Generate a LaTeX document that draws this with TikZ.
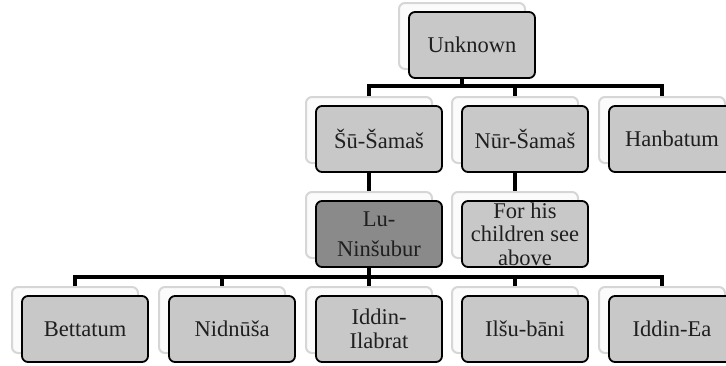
\documentclass[tikz,border=0pt]{standalone}
\usepackage{fontspec}
\setmainfont{Liberation Serif}
\usetikzlibrary{shadows,backgrounds}
\definecolor{boxgray}{RGB}{200,200,200}
\definecolor{boxdark}{RGB}{138,138,138}
\definecolor{shadowline}{RGB}{214,214,214}
\definecolor{shadowfill}{RGB}{251,251,251}
\begin{document}
\begin{tikzpicture}[x=1pt,y=-1pt,
  famnode/.style={rectangle, rounded corners=6pt, draw=black, line width=1.8pt,
    fill=boxgray, minimum width=126pt, minimum height=66pt, inner sep=0pt,
    align=center, text=black!88, font=\fontsize{22.5}{24.5}\selectfont,
    copy shadow={shadow xshift=-10pt, shadow yshift=9pt, fill=shadowfill,
      draw=shadowline, line width=2pt}},
  link/.style={line width=4pt, draw=black}]
\useasboundingbox (0,0) rectangle (726,365);
\clip (0,0) rectangle (726,365);
% level 1
\node[famnode] (u) at (472,45) {Unknown};
% level 2
\node[famnode] (s) at (379,139) {Šū-Šamaš};
\node[famnode] (n) at (525,139) {Nūr-Šamaš};
\node[famnode] (h) at (672,139) {Hanbatum};
% level 3
\node[famnode, fill=boxdark] (l) at (379,234) {Lu-\\[6pt]Ninšubur};
\node[famnode, label={[align=center, text=black!88, font=\fontsize{22.5}{23.5}\selectfont]center:For his\\children see\\above}] (f) at (525,234) {};
% level 4
\node[famnode] (b1) at (85,329) {Bettatum};
\node[famnode] (b2) at (232,329) {Nidnūša};
\node[famnode] (b3) at (379,329) {Iddin-\\Ilabrat};
\node[famnode] (b4) at (525,329) {Ilšu-bāni};
\node[famnode] (b5) at (672,329) {Iddin-Ea};
\coordinate (bus1) at (0,86);
\coordinate (bus2) at (0,277);
\begin{scope}[on background layer]
  \draw[link] ([xshift=-10pt]u.south) -- ([xshift=-10pt]u.south |- bus1);
  \draw[link] ([xshift=-10pt,yshift=9pt]s.north) |- ([xshift=-10pt]h.north |- bus1) -- ([xshift=-10pt,yshift=9pt]h.north);
  \draw[link] ([xshift=-10pt,yshift=9pt]n.north) -- ([xshift=-10pt]n.north |- bus1);
  \draw[link] ([xshift=-10pt]s.south) -- ([xshift=-10pt,yshift=9pt]l.north);
  \draw[link] ([xshift=-10pt]n.south) -- ([xshift=-10pt,yshift=9pt]f.north);
  \draw[link] ([xshift=-10pt]l.south) -- ([xshift=-10pt]l.south |- bus2);
  \draw[link] ([xshift=-10pt,yshift=9pt]b1.north) |- ([xshift=-10pt]b5.north |- bus2) -- ([xshift=-10pt,yshift=9pt]b5.north);
  \draw[link] ([xshift=-10pt,yshift=9pt]b2.north) -- ([xshift=-10pt]b2.north |- bus2);
  \draw[link] ([xshift=-10pt,yshift=9pt]b3.north) -- ([xshift=-10pt]b3.north |- bus2);
  \draw[link] ([xshift=-10pt,yshift=9pt]b4.north) -- ([xshift=-10pt]b4.north |- bus2);
\end{scope}
\end{tikzpicture}
\end{document}
